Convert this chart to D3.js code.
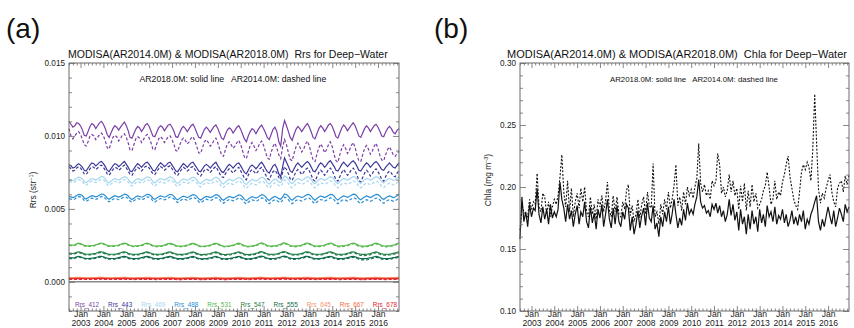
<!DOCTYPE html>
<html>
<head>
<meta charset="utf-8">
<script src="https://cdn.jsdelivr.net/npm/d3@7"></script>
<style>
  body { margin: 0; background: #fff; }
  svg { display: block; font-family: "Liberation Sans", Arial, Helvetica, sans-serif; }
  svg text { white-space: pre; }
</style>
</head>
<body>
<svg id="chart" width="854" height="328"></svg>
<script>
// Monthly series, Jul 2002 .. Dec 2016 (one row per calendar year)
const firstMonth = new Date(2002, 6, 1);
const lastMonth = new Date(2016, 11, 1);
const yearLabels = [2003, 2004, 2005, 2006, 2007, 2008, 2009, 2010, 2011, 2012, 2013, 2014, 2015, 2016];

const bands = ["Rrs_412", "Rrs_443", "Rrs_469", "Rrs_488", "Rrs_531", "Rrs_547", "Rrs_555", "Rrs_645", "Rrs_667", "Rrs_678"];
const bandColors = ["#7b3fa6", "#3b3898", "#a6d6f0", "#2c8fd2", "#55b84a", "#1f7d45", "#106c4c", "#f3946b", "#f26a3b", "#e62530"];

// Rrs values in units of 1e-5 sr^-1
const RRS_UNIT = 1e-5;

const rrs412_2018 = [
  1100, 1080, 1060, 1070, 1090, 1085,
  1070, 1040, 1005, 1000, 1030, 1065, 1085, 1075, 1050, 1070, 1090, 1100,
  1080, 1050, 1010, 990, 1020, 1050, 1070, 1060, 1040, 1060, 1080, 1095,
  1070, 1035, 990, 985, 1015, 1045, 1065, 1055, 1030, 1050, 1075, 1085,
  1065, 1030, 1000, 995, 1025, 1055, 1070, 1060, 1035, 1055, 1075, 1080,
  1060, 1030, 995, 990, 1020, 1050, 1065, 1050, 1030, 1050, 1070, 1080,
  1055, 1020, 990, 985, 1015, 1045, 1060, 1045, 1025, 1045, 1065, 1075,
  1050, 1015, 985, 975, 1010, 1040, 1055, 1045, 1020, 1040, 1060, 1070,
  1045, 1010, 980, 960, 1000, 1030, 1050, 1040, 1015, 1040, 1060, 1075,
  1050, 1020, 990, 975, 1010, 1045, 1060, 1030, 960, 930, 1050, 1105,
  1070, 1030, 990, 970, 1010, 1045, 1065, 1050, 1030, 1050, 1070, 1085,
  1060, 1025, 990, 980, 1015, 1050, 1070, 1055, 1030, 1050, 1075, 1085,
  1065, 1030, 995, 985, 1020, 1055, 1075, 1060, 1035, 1055, 1075, 1090,
  1070, 1035, 1000, 990, 1020, 1050, 1070, 1055, 1030, 1050, 1070, 1080,
  1060, 1030, 1000, 995, 1025, 1050, 1065, 1050, 1025, 1015, 1040, 1050
];
const rrs412_2014 = [
  1050, 1000, 980, 1000, 1020, 1030,
  1010, 975, 940, 930, 960, 1000, 1010, 1000, 975, 990, 1010, 1020,
  1000, 965, 920, 910, 950, 990, 1005, 995, 965, 985, 1005, 1015,
  990, 950, 905, 900, 940, 980, 995, 985, 955, 975, 1000, 1010,
  985, 950, 910, 905, 945, 980, 995, 980, 955, 975, 995, 1000,
  975, 940, 900, 895, 935, 970, 985, 970, 945, 960, 985, 995,
  965, 925, 885, 880, 920, 960, 975, 955, 930, 945, 970, 985,
  950, 905, 870, 860, 905, 945, 960, 940, 915, 930, 955, 970,
  940, 895, 855, 845, 890, 935, 955, 930, 900, 920, 950, 965,
  935, 890, 850, 840, 885, 930, 950, 915, 870, 845, 925, 975,
  940, 885, 840, 830, 880, 925, 950, 925, 890, 910, 945, 965,
  930, 875, 835, 825, 875, 920, 945, 920, 885, 905, 940, 960,
  925, 870, 830, 820, 870, 915, 940, 915, 880, 900, 935, 955,
  920, 865, 830, 825, 870, 915, 935, 910, 875, 895, 930, 950,
  915, 865, 835, 830, 870, 905, 925, 900, 870, 860, 880, 895
];
const rrs443_2018 = [
  805, 795, 780, 785, 800, 810,
  800, 785, 765, 760, 780, 800, 815, 810, 795, 805, 820, 825,
  810, 790, 765, 755, 775, 795, 810, 805, 790, 800, 815, 825,
  805, 785, 760, 755, 775, 795, 810, 800, 785, 800, 815, 820,
  805, 785, 765, 760, 780, 800, 815, 805, 790, 800, 815, 820,
  800, 780, 760, 755, 775, 795, 810, 800, 785, 800, 815, 820,
  800, 780, 760, 755, 775, 795, 805, 795, 780, 795, 810, 820,
  795, 775, 755, 750, 770, 790, 805, 795, 780, 795, 810, 815,
  795, 770, 750, 740, 765, 790, 800, 790, 775, 790, 810, 820,
  800, 775, 755, 745, 770, 795, 805, 780, 740, 720, 790, 850,
  820, 790, 760, 750, 775, 800, 815, 800, 785, 800, 815, 825,
  810, 785, 760, 755, 775, 800, 815, 805, 785, 800, 820, 830,
  810, 790, 765, 760, 780, 805, 820, 805, 790, 805, 820, 830,
  815, 790, 765, 760, 780, 800, 815, 805, 785, 800, 815, 825,
  810, 790, 770, 765, 785, 800, 815, 800, 785, 780, 800, 815
];
const rrs443_2014 = [
  790, 775, 760, 765, 780, 790,
  780, 760, 740, 735, 755, 775, 790, 785, 770, 780, 795, 800,
  785, 765, 740, 730, 750, 770, 785, 780, 765, 775, 790, 800,
  780, 760, 735, 730, 750, 770, 785, 775, 760, 775, 790, 795,
  780, 760, 740, 735, 755, 775, 790, 780, 765, 775, 790, 795,
  775, 755, 735, 730, 750, 770, 785, 775, 760, 770, 785, 790,
  770, 750, 730, 725, 745, 765, 775, 765, 750, 765, 780, 790,
  765, 740, 720, 715, 740, 760, 775, 760, 745, 760, 775, 785,
  760, 735, 710, 700, 730, 755, 770, 755, 740, 755, 775, 785,
  760, 735, 710, 700, 730, 755, 765, 745, 715, 700, 750, 790,
  770, 740, 705, 695, 725, 755, 770, 755, 735, 750, 770, 780,
  760, 730, 700, 690, 720, 750, 765, 750, 730, 745, 770, 780,
  760, 730, 700, 690, 720, 750, 770, 750, 730, 745, 770, 780,
  760, 730, 695, 685, 715, 745, 765, 750, 725, 740, 765, 775,
  755, 730, 700, 690, 720, 745, 760, 745, 725, 720, 745, 765
];
const rrs469_2018 = [
  705, 700, 695, 700, 710, 718,
  715, 705, 688, 680, 690, 700, 708, 704, 698, 705, 714, 722,
  718, 706, 686, 678, 690, 700, 708, 703, 697, 704, 713, 721,
  716, 704, 684, 676, 688, 699, 707, 702, 696, 703, 712, 720,
  716, 704, 686, 678, 689, 700, 708, 703, 697, 704, 713, 720,
  714, 702, 683, 675, 687, 698, 706, 701, 695, 702, 711, 718,
  712, 700, 681, 673, 685, 696, 704, 699, 693, 700, 710, 717,
  711, 698, 679, 671, 684, 695, 703, 698, 692, 699, 709, 716,
  710, 697, 676, 666, 680, 693, 702, 697, 690, 698, 709, 718,
  713, 700, 680, 670, 684, 697, 705, 698, 685, 680, 700, 725,
  718, 703, 682, 672, 686, 699, 708, 702, 695, 702, 712, 720,
  715, 701, 681, 672, 686, 699, 708, 703, 696, 703, 713, 721,
  716, 702, 682, 673, 687, 700, 709, 704, 697, 704, 714, 722,
  717, 703, 683, 674, 688, 700, 709, 703, 696, 703, 713, 721,
  716, 703, 685, 677, 690, 701, 709, 703, 696, 700, 712, 722
];
const rrs469_2014 = [
  690, 685, 680, 685, 695, 700,
  698, 688, 670, 662, 672, 683, 690, 686, 680, 687, 696, 703,
  699, 686, 667, 659, 670, 681, 689, 684, 678, 685, 694, 701,
  696, 684, 664, 656, 668, 679, 687, 682, 676, 683, 692, 699,
  695, 683, 665, 657, 668, 679, 687, 682, 676, 683, 692, 699,
  692, 680, 661, 653, 665, 676, 684, 679, 673, 680, 689, 696,
  689, 677, 658, 650, 662, 673, 681, 676, 670, 677, 686, 693,
  686, 673, 654, 646, 659, 670, 678, 673, 667, 674, 684, 691,
  684, 671, 650, 640, 654, 667, 676, 671, 664, 672, 683, 691,
  686, 673, 653, 643, 657, 670, 678, 671, 660, 655, 675, 698,
  690, 675, 654, 644, 658, 671, 680, 674, 667, 674, 684, 692,
  686, 672, 652, 643, 657, 670, 679, 674, 667, 674, 684, 692,
  686, 672, 652, 643, 657, 670, 679, 674, 667, 674, 684, 692,
  686, 672, 652, 643, 657, 669, 678, 672, 665, 672, 682, 690,
  684, 671, 653, 645, 658, 669, 677, 671, 664, 668, 680, 690
];
const rrs488_2018 = [
  585, 582, 578, 583, 592, 600,
  598, 590, 575, 568, 576, 584, 590, 587, 582, 587, 595, 602,
  600, 590, 574, 566, 575, 584, 590, 586, 581, 586, 594, 601,
  598, 588, 572, 564, 573, 583, 589, 585, 580, 585, 593, 600,
  598, 588, 573, 565, 574, 583, 589, 585, 580, 585, 593, 600,
  596, 586, 570, 563, 572, 581, 587, 583, 578, 583, 591, 598,
  595, 584, 569, 561, 570, 579, 586, 582, 577, 582, 590, 597,
  594, 583, 567, 559, 569, 578, 585, 581, 576, 581, 589, 596,
  593, 582, 565, 556, 567, 577, 584, 580, 574, 580, 589, 598,
  595, 584, 567, 558, 569, 579, 586, 580, 570, 566, 582, 603,
  599, 587, 569, 560, 571, 581, 588, 583, 577, 583, 591, 599,
  597, 586, 569, 560, 571, 581, 588, 584, 578, 584, 592, 600,
  598, 587, 570, 561, 572, 582, 589, 585, 579, 585, 593, 601,
  599, 588, 571, 562, 573, 582, 589, 584, 578, 584, 592, 600,
  598, 587, 572, 564, 574, 583, 589, 584, 578, 581, 591, 600
];
const rrs488_2014 = [
  570, 567, 563, 568, 577, 584,
  582, 573, 558, 551, 559, 567, 573, 570, 565, 570, 578, 585,
  583, 572, 556, 548, 557, 566, 572, 568, 563, 568, 576, 583,
  580, 570, 554, 546, 555, 565, 571, 567, 562, 567, 575, 582,
  580, 570, 555, 547, 556, 565, 571, 567, 562, 567, 575, 582,
  577, 567, 551, 544, 553, 562, 568, 564, 559, 564, 572, 579,
  575, 564, 549, 541, 550, 559, 566, 562, 557, 562, 570, 577,
  573, 562, 546, 538, 548, 557, 564, 560, 555, 560, 568, 575,
  571, 560, 543, 534, 545, 555, 562, 558, 552, 558, 567, 575,
  572, 561, 544, 535, 546, 556, 563, 557, 548, 544, 560, 580,
  575, 563, 545, 536, 547, 557, 564, 559, 553, 559, 567, 575,
  573, 562, 545, 536, 547, 557, 564, 560, 554, 560, 568, 576,
  573, 562, 545, 536, 547, 557, 564, 560, 554, 560, 568, 576,
  573, 562, 545, 536, 547, 556, 563, 558, 552, 558, 566, 574,
  572, 561, 546, 538, 548, 557, 563, 558, 552, 555, 565, 574
];
const rrs531_2018 = [
  255, 252, 251, 254, 260, 265,
  262, 256, 250, 247, 246, 247, 248, 250, 253, 258, 264, 266,
  262, 256, 250, 247, 246, 246, 247, 249, 252, 257, 263, 265,
  262, 255, 249, 246, 245, 246, 247, 249, 252, 257, 263, 265,
  261, 255, 249, 246, 245, 246, 247, 249, 252, 257, 262, 264,
  261, 255, 249, 246, 245, 245, 246, 248, 251, 256, 262, 264,
  260, 254, 248, 245, 244, 245, 246, 248, 251, 256, 262, 264,
  260, 254, 248, 245, 244, 245, 246, 248, 251, 256, 262, 265,
  261, 254, 248, 245, 244, 245, 246, 248, 252, 257, 264, 267,
  263, 256, 249, 246, 245, 246, 247, 249, 253, 258, 265, 267,
  263, 256, 249, 246, 245, 246, 247, 249, 252, 257, 264, 266,
  262, 255, 249, 246, 245, 246, 247, 249, 252, 257, 263, 266,
  262, 256, 249, 246, 245, 246, 247, 249, 252, 257, 263, 266,
  262, 255, 249, 246, 245, 245, 246, 248, 251, 256, 262, 265,
  261, 255, 249, 246, 245, 246, 247, 249, 252, 256, 262, 266
];
const rrs531_2014 = [
  251, 248, 247, 250, 256, 261,
  258, 252, 246, 243, 242, 243, 244, 246, 249, 254, 260, 262,
  258, 252, 246, 243, 242, 242, 243, 245, 248, 253, 259, 261,
  258, 251, 245, 242, 241, 242, 243, 245, 248, 253, 259, 261,
  257, 251, 245, 242, 241, 242, 243, 245, 248, 253, 258, 260,
  257, 251, 245, 242, 241, 241, 242, 244, 247, 252, 258, 260,
  256, 250, 244, 241, 240, 241, 242, 244, 247, 252, 258, 260,
  256, 250, 244, 241, 240, 241, 242, 244, 247, 252, 258, 260,
  256, 250, 244, 241, 240, 241, 242, 244, 247, 252, 259, 262,
  258, 251, 245, 242, 241, 242, 243, 245, 248, 253, 260, 262,
  258, 251, 244, 241, 240, 241, 242, 244, 247, 252, 259, 261,
  257, 250, 244, 241, 240, 241, 242, 244, 247, 252, 258, 261,
  257, 251, 244, 241, 240, 241, 242, 244, 247, 252, 258, 261,
  257, 250, 244, 241, 240, 240, 241, 243, 246, 251, 257, 260,
  256, 250, 244, 241, 240, 241, 242, 244, 247, 251, 257, 261
];
const rrs547_2018 = [
  196, 194, 194, 197, 202, 206,
  202, 197, 192, 190, 189, 190, 191, 193, 196, 200, 205, 206,
  202, 197, 192, 190, 189, 189, 190, 192, 195, 199, 204, 206,
  202, 196, 191, 189, 188, 189, 190, 192, 195, 199, 204, 205,
  201, 196, 191, 189, 188, 189, 190, 192, 195, 199, 204, 205,
  201, 196, 191, 189, 188, 188, 189, 191, 194, 198, 203, 205,
  200, 195, 190, 188, 187, 188, 189, 191, 194, 198, 203, 205,
  200, 195, 190, 188, 187, 188, 189, 191, 194, 198, 203, 205,
  201, 195, 190, 188, 187, 188, 189, 191, 195, 199, 205, 207,
  203, 197, 191, 189, 188, 189, 190, 192, 196, 200, 206, 207,
  203, 197, 191, 189, 188, 189, 190, 192, 195, 199, 205, 206,
  202, 196, 191, 189, 188, 189, 190, 192, 195, 199, 204, 206,
  202, 197, 191, 189, 188, 189, 190, 192, 195, 199, 204, 206,
  202, 196, 191, 189, 188, 188, 189, 191, 194, 198, 203, 205,
  201, 196, 191, 189, 188, 189, 190, 192, 195, 198, 203, 206
];
const rrs547_2014 = [
  191, 189, 189, 192, 197, 201,
  197, 192, 187, 185, 184, 185, 186, 188, 191, 195, 200, 201,
  197, 192, 187, 185, 184, 184, 185, 187, 190, 194, 199, 201,
  197, 191, 186, 184, 183, 184, 185, 187, 190, 194, 199, 200,
  196, 191, 186, 184, 183, 184, 185, 187, 190, 194, 199, 200,
  196, 191, 186, 184, 183, 183, 184, 186, 189, 193, 198, 200,
  195, 190, 185, 183, 182, 183, 184, 186, 189, 193, 198, 200,
  195, 190, 185, 183, 182, 183, 184, 186, 189, 193, 198, 200,
  196, 190, 185, 183, 182, 183, 184, 186, 190, 194, 200, 202,
  198, 192, 186, 184, 183, 184, 185, 187, 191, 195, 201, 202,
  198, 192, 186, 184, 183, 184, 185, 187, 190, 194, 200, 201,
  197, 191, 186, 184, 183, 184, 185, 187, 190, 194, 199, 201,
  197, 191, 185, 183, 182, 183, 184, 186, 189, 193, 198, 200,
  196, 190, 184, 181, 180, 180, 181, 183, 186, 191, 197, 199,
  195, 190, 185, 183, 182, 183, 184, 186, 189, 192, 197, 200
];
const rrs555_2018 = [
  166, 164, 164, 167, 171, 175,
  172, 167, 163, 161, 160, 161, 162, 164, 167, 170, 174, 175,
  172, 167, 163, 161, 160, 160, 161, 163, 166, 169, 173, 175,
  172, 166, 162, 160, 159, 160, 161, 163, 166, 169, 173, 174,
  171, 166, 162, 160, 159, 160, 161, 163, 166, 169, 173, 174,
  171, 166, 162, 160, 159, 159, 160, 162, 165, 168, 172, 174,
  170, 165, 161, 159, 158, 159, 160, 162, 165, 168, 172, 174,
  170, 165, 161, 159, 158, 159, 160, 162, 165, 168, 172, 174,
  171, 165, 161, 159, 158, 159, 160, 162, 166, 169, 174, 176,
  173, 167, 162, 160, 159, 160, 161, 163, 167, 170, 175, 176,
  173, 167, 162, 160, 159, 160, 161, 163, 166, 169, 174, 175,
  172, 166, 162, 160, 159, 160, 161, 163, 166, 169, 173, 175,
  172, 167, 162, 160, 159, 160, 161, 163, 166, 169, 173, 175,
  172, 166, 162, 160, 159, 159, 160, 162, 165, 168, 172, 174,
  171, 166, 162, 160, 159, 160, 161, 163, 166, 168, 172, 175
];
const rrs555_2014 = [
  161, 159, 159, 162, 166, 170,
  167, 162, 158, 156, 155, 156, 157, 159, 162, 165, 169, 170,
  167, 162, 158, 156, 155, 155, 156, 158, 161, 164, 168, 170,
  167, 161, 157, 155, 154, 155, 156, 158, 161, 164, 168, 169,
  166, 161, 157, 155, 154, 155, 156, 158, 161, 164, 168, 169,
  166, 161, 157, 155, 154, 154, 155, 157, 160, 163, 167, 169,
  165, 160, 156, 154, 153, 154, 155, 157, 160, 163, 167, 169,
  165, 160, 156, 154, 153, 154, 155, 157, 160, 163, 167, 169,
  166, 160, 156, 154, 153, 154, 155, 157, 161, 164, 169, 171,
  168, 162, 157, 155, 154, 155, 156, 158, 162, 165, 170, 171,
  168, 162, 157, 155, 154, 155, 156, 158, 161, 164, 169, 170,
  167, 161, 157, 155, 154, 155, 156, 158, 161, 164, 168, 170,
  167, 161, 156, 154, 153, 154, 155, 157, 160, 163, 167, 169,
  166, 160, 155, 152, 150, 150, 151, 153, 156, 160, 165, 168,
  165, 160, 156, 154, 153, 154, 155, 157, 160, 162, 166, 169
];
const rrs645_2018 = [
  30, 29, 29, 29, 30, 30,
  30, 29, 29, 28, 28, 28, 29, 29, 29, 30, 30, 31,
  30, 29, 29, 28, 28, 28, 29, 29, 29, 30, 30, 30,
  30, 29, 28, 28, 28, 28, 29, 29, 29, 29, 30, 30,
  30, 29, 28, 28, 28, 28, 28, 29, 29, 29, 30, 30,
  30, 29, 28, 28, 28, 28, 28, 29, 29, 29, 30, 30,
  29, 29, 28, 28, 27, 28, 28, 28, 29, 29, 30, 30,
  29, 29, 28, 28, 27, 28, 28, 28, 29, 29, 30, 30,
  30, 29, 28, 28, 28, 28, 28, 29, 29, 30, 30, 31,
  30, 29, 29, 28, 28, 28, 29, 29, 29, 30, 30, 31,
  30, 29, 29, 28, 28, 28, 29, 29, 29, 30, 30, 30,
  30, 29, 28, 28, 28, 28, 29, 29, 29, 30, 30, 30,
  30, 29, 28, 28, 28, 28, 29, 29, 29, 30, 30, 30,
  30, 29, 28, 28, 28, 28, 28, 29, 29, 29, 30, 30,
  30, 29, 28, 28, 28, 28, 29, 29, 29, 29, 30, 30
];
const rrs645_2014 = [
  25, 24, 24, 24, 25, 25,
  25, 24, 24, 23, 23, 23, 24, 24, 24, 25, 25, 26,
  25, 24, 24, 23, 23, 23, 24, 24, 24, 25, 25, 25,
  25, 24, 23, 23, 23, 23, 24, 24, 24, 24, 25, 25,
  25, 24, 23, 23, 23, 23, 23, 24, 24, 24, 25, 25,
  25, 24, 23, 23, 23, 23, 23, 24, 24, 24, 25, 25,
  24, 24, 23, 23, 22, 23, 23, 23, 24, 24, 25, 25,
  24, 24, 23, 23, 22, 23, 23, 23, 24, 24, 25, 25,
  25, 24, 23, 23, 23, 23, 23, 24, 24, 25, 25, 26,
  25, 24, 24, 23, 23, 23, 24, 24, 24, 25, 25, 26,
  25, 24, 24, 23, 23, 23, 24, 24, 24, 25, 25, 25,
  25, 24, 23, 23, 23, 23, 24, 24, 24, 25, 25, 25,
  25, 24, 23, 23, 23, 23, 24, 24, 24, 25, 25, 25,
  25, 24, 23, 23, 23, 23, 23, 24, 24, 24, 25, 25,
  25, 24, 23, 23, 23, 23, 24, 24, 24, 24, 25, 25
];
const rrs667_2018 = [
  24, 24, 23, 23, 24, 24,
  24, 24, 23, 23, 23, 23, 23, 24, 24, 24, 25, 25,
  24, 24, 23, 23, 23, 23, 23, 24, 24, 24, 24, 25,
  24, 24, 23, 23, 22, 23, 23, 23, 24, 24, 24, 24,
  24, 24, 23, 23, 22, 23, 23, 23, 24, 24, 24, 24,
  24, 23, 23, 22, 22, 22, 23, 23, 23, 24, 24, 24,
  24, 23, 23, 22, 22, 22, 23, 23, 23, 24, 24, 24,
  24, 23, 23, 22, 22, 22, 23, 23, 23, 24, 24, 24,
  24, 24, 23, 23, 22, 23, 23, 23, 24, 24, 25, 25,
  24, 24, 23, 23, 23, 23, 23, 24, 24, 24, 25, 25,
  24, 24, 23, 23, 23, 23, 23, 24, 24, 24, 24, 25,
  24, 24, 23, 23, 22, 23, 23, 23, 24, 24, 24, 25,
  24, 24, 23, 23, 22, 23, 23, 23, 24, 24, 24, 25,
  24, 24, 23, 22, 22, 22, 23, 23, 23, 24, 24, 24,
  24, 24, 23, 23, 22, 23, 23, 23, 24, 24, 24, 24
];
const rrs667_2014 = [
  19, 19, 18, 18, 19, 19,
  19, 19, 18, 18, 18, 18, 18, 19, 19, 19, 20, 20,
  19, 19, 18, 18, 18, 18, 18, 19, 19, 19, 19, 20,
  19, 19, 18, 18, 17, 18, 18, 18, 19, 19, 19, 19,
  19, 19, 18, 18, 17, 18, 18, 18, 19, 19, 19, 19,
  19, 18, 18, 17, 17, 17, 18, 18, 18, 19, 19, 19,
  19, 18, 18, 17, 17, 17, 18, 18, 18, 19, 19, 19,
  19, 18, 18, 17, 17, 17, 18, 18, 18, 19, 19, 19,
  19, 19, 18, 18, 17, 18, 18, 18, 19, 19, 20, 20,
  19, 19, 18, 18, 18, 18, 18, 19, 19, 19, 20, 20,
  19, 19, 18, 18, 18, 18, 18, 19, 19, 19, 19, 20,
  19, 19, 18, 18, 17, 18, 18, 18, 19, 19, 19, 20,
  19, 19, 18, 18, 17, 18, 18, 18, 19, 19, 19, 20,
  19, 19, 18, 17, 17, 17, 18, 18, 18, 19, 19, 19,
  19, 19, 18, 18, 17, 18, 18, 18, 19, 19, 19, 19
];
const rrs678_2018 = [
  22, 22, 21, 21, 22, 22,
  22, 22, 21, 21, 21, 21, 21, 22, 22, 22, 23, 23,
  22, 22, 21, 21, 21, 21, 21, 22, 22, 22, 22, 23,
  22, 22, 21, 21, 20, 21, 21, 21, 22, 22, 22, 22,
  22, 22, 21, 21, 20, 21, 21, 21, 22, 22, 22, 22,
  22, 21, 21, 20, 20, 20, 21, 21, 21, 22, 22, 22,
  22, 21, 21, 20, 20, 20, 21, 21, 21, 22, 22, 22,
  22, 21, 21, 20, 20, 20, 21, 21, 21, 22, 22, 22,
  22, 22, 21, 21, 20, 21, 21, 21, 22, 22, 23, 23,
  22, 22, 21, 21, 21, 21, 21, 22, 22, 22, 23, 23,
  22, 22, 21, 21, 21, 21, 21, 22, 22, 22, 22, 23,
  22, 22, 21, 21, 20, 21, 21, 21, 22, 22, 22, 23,
  22, 22, 21, 21, 20, 21, 21, 21, 22, 22, 22, 23,
  22, 22, 21, 20, 20, 20, 21, 21, 21, 22, 22, 22,
  22, 22, 21, 21, 20, 21, 21, 21, 22, 22, 22, 22
];
const rrs678_2014 = [
  17, 17, 16, 16, 17, 17,
  17, 17, 16, 16, 16, 16, 16, 17, 17, 17, 18, 18,
  17, 17, 16, 16, 16, 16, 16, 17, 17, 17, 17, 18,
  17, 17, 16, 16, 15, 16, 16, 16, 17, 17, 17, 17,
  17, 17, 16, 16, 15, 16, 16, 16, 17, 17, 17, 17,
  17, 16, 16, 15, 15, 15, 16, 16, 16, 17, 17, 17,
  17, 16, 16, 15, 15, 15, 16, 16, 16, 17, 17, 17,
  17, 16, 16, 15, 15, 15, 16, 16, 16, 17, 17, 17,
  17, 17, 16, 16, 15, 16, 16, 16, 17, 17, 18, 18,
  17, 17, 16, 16, 16, 16, 16, 17, 17, 17, 18, 18,
  17, 17, 16, 16, 16, 16, 16, 17, 17, 17, 17, 18,
  17, 17, 16, 16, 15, 16, 16, 16, 17, 17, 17, 18,
  17, 17, 16, 16, 15, 16, 16, 16, 17, 17, 17, 18,
  17, 17, 16, 15, 15, 15, 16, 16, 16, 17, 17, 17,
  17, 17, 16, 16, 15, 16, 16, 16, 17, 17, 17, 17
];

// Chla in mg m^-3
const chla2018 = [
  .158, .192, .172, .180, .168, .186,
  .176, .183, .181, .199, .178, .171, .184, .174, .182, .170, .186, .175,
  .180, .176, .182, .204, .190, .183, .172, .186, .174, .181, .168, .178,
  .185, .170, .180, .176, .188, .172, .167, .184, .171, .179, .166, .182,
  .175, .186, .168, .178, .190, .174, .167, .183, .170, .185, .172, .168,
  .180, .174, .186, .183, .165, .176, .162, .170, .181, .167, .177, .183,
  .169, .187, .175, .172, .185, .166, .171, .160, .176, .168, .180, .172,
  .184, .170, .178, .190, .178, .167, .175, .169, .182, .173, .187, .178,
  .182, .178, .186, .192, .206, .188, .183, .185, .179, .181, .176, .186,
  .182, .187, .179, .185, .176, .181, .172, .178, .190, .177, .186, .173,
  .180, .165, .182, .170, .176, .162, .178, .166, .181, .170, .176, .164,
  .182, .171, .178, .168, .185, .176, .180, .172, .184, .170, .177, .174,
  .182, .171, .178, .168, .173, .181, .170, .176, .169, .178, .172, .181,
  .166, .174, .170, .178, .182, .188, .193, .172, .165, .174, .168, .176,
  .184, .176, .170, .181, .168, .175, .183, .178, .172, .186, .180, .184
];
const chla2014 = [
  .165, .185, .180, .178, .176, .190,
  .182, .188, .186, .211, .184, .180, .195, .192, .178, .188, .176, .184,
  .190, .186, .193, .208, .226, .196, .184, .205, .180, .199, .176, .188,
  .195, .183, .199, .188, .200, .180, .176, .192, .178, .186, .174, .190,
  .184, .193, .180, .189, .204, .181, .176, .193, .180, .192, .178, .176,
  .188, .182, .197, .202, .177, .185, .172, .178, .190, .175, .186, .192,
  .178, .196, .185, .183, .219, .176, .180, .170, .186, .178, .190, .182,
  .196, .183, .190, .201, .218, .185, .192, .181, .196, .186, .200, .193,
  .198, .191, .200, .207, .235, .203, .196, .202, .193, .197, .190, .205,
  .201, .205, .227, .218, .195, .200, .192, .197, .210, .196, .205, .193,
  .199, .182, .201, .188, .203, .181, .197, .184, .202, .188, .195, .183,
  .186, .190, .197, .201, .212, .200, .186, .190, .205, .190, .196, .193,
  .204, .210, .218, .225, .208, .199, .190, .185, .182, .196, .212, .218,
  .214, .220, .216, .205, .230, .275, .236, .198, .187, .195, .191, .199,
  .205, .210, .196, .188, .184, .199, .203, .205, .196, .209, .202, .210
];

const rrsSeries2018 = [rrs412_2018, rrs443_2018, rrs469_2018, rrs488_2018, rrs531_2018, rrs547_2018, rrs555_2018, rrs645_2018, rrs667_2018, rrs678_2018];
const rrsSeries2014 = [rrs412_2014, rrs443_2014, rrs469_2014, rrs488_2014, rrs531_2014, rrs547_2014, rrs555_2014, rrs645_2014, rrs667_2014, rrs678_2014];

const rrsTicks = [0, 0.005, 0.010, 0.015];
const chlaTicks = [0.10, 0.15, 0.20, 0.25, 0.30];

// ---------------------------------------------------------------
const months = d3.timeMonth.range(firstMonth, d3.timeMonth.offset(lastMonth, 1));
const svg = d3.select("#chart");
const FRAME = "#6a6a6a";

function styleAxis(g) {
  g.select(".domain").remove();
  g.selectAll(".tick line").attr("stroke", FRAME).attr("stroke-width", 0.8);
  g.attr("font-family", null).attr("font-size", null);
  g.selectAll("text").attr("fill", "#222");
}

function fitText(sel, width) {
  const fs = parseFloat(sel.attr("font-size"));
  const w = sel.node().getComputedTextLength();
  sel.attr("font-size", (fs * width / w).toFixed(2));
  return sel;
}

function frameAxes(g, x, y, yMajor, yMinor, yFmt) {
  const [xl, xr] = x.range();
  const [yb, yt] = y.range();
  const jans = yearLabels.map(yr => new Date(yr, 0, 1));
  const minorMonths = d3.timeMonth.every(2).range(x.domain()[0], d3.timeMonth.offset(x.domain()[1], 1))
    .filter(d => d.getMonth() !== 0);

  // left / right value axes
  g.append("g").attr("transform", `translate(${xl},0)`)
    .call(d3.axisLeft(y).tickValues(yMajor).tickSize(-6).tickPadding(4).tickFormat(yFmt))
    .call(styleAxis).call(a => a.selectAll("text").attr("font-size", 8.2));
  g.append("g").attr("transform", `translate(${xl},0)`)
    .call(d3.axisLeft(y).tickValues(yMinor).tickSize(-3).tickFormat(""))
    .call(styleAxis);
  g.append("g").attr("transform", `translate(${xr},0)`)
    .call(d3.axisRight(y).tickValues(yMajor).tickSize(-6).tickFormat(""))
    .call(styleAxis);
  g.append("g").attr("transform", `translate(${xr},0)`)
    .call(d3.axisRight(y).tickValues(yMinor).tickSize(-3).tickFormat(""))
    .call(styleAxis);

  // bottom / top time axes
  g.append("g").attr("transform", `translate(0,${yb})`)
    .call(d3.axisBottom(x).tickValues(jans).tickSize(-5).tickFormat(""))
    .call(styleAxis);
  g.append("g").attr("transform", `translate(0,${yb})`)
    .call(d3.axisBottom(x).tickValues(minorMonths).tickSize(-2.5).tickFormat(""))
    .call(styleAxis);
  g.append("g").attr("transform", `translate(0,${yt})`)
    .call(d3.axisTop(x).tickValues(jans).tickSize(-5).tickFormat(""))
    .call(styleAxis);
  g.append("g").attr("transform", `translate(0,${yt})`)
    .call(d3.axisTop(x).tickValues(minorMonths).tickSize(-2.5).tickFormat(""))
    .call(styleAxis);

  // two-line date labels
  const lab = g.append("g").attr("transform", `translate(0,${yb})`)
    .call(d3.axisBottom(x).tickValues(jans).tickSize(0).tickPadding(0).tickFormat(d3.timeFormat("%b")))
    .call(styleAxis);
  lab.selectAll("text").attr("font-size", 8.6).attr("dy", null).attr("y", 6.2)
    .each(function (d) {
      d3.select(this).append("tspan").attr("x", 0).attr("dy", 8.4).text(d3.timeFormat("%Y")(d));
    });

  g.append("rect").attr("x", xl).attr("y", yt).attr("width", xr - xl).attr("height", yb - yt)
    .attr("fill", "none").attr("stroke", FRAME).attr("stroke-width", 1);
}

function titles(g, cx, title, titleW, subCx, sub, subW, ylab, ylabSup, ylabX, ylabY) {
  const t = g.append("text").attr("font-size", 10.5).attr("fill", "#111").attr("y", 58).text(title);
  fitText(t, titleW).attr("x", cx - titleW / 2);
  const s = g.append("text").attr("font-size", 7.5).attr("fill", "#111").attr("y", 82).text(sub);
  fitText(s, subW).attr("x", subCx - subW / 2);
  const yl = g.append("text").attr("font-size", 8.4).attr("fill", "#222")
    .attr("text-anchor", "middle")
    .attr("transform", `translate(${ylabX},${ylabY}) rotate(-90)`);
  yl.append("tspan").text(ylab[0]);
  yl.append("tspan").attr("font-size", 5.5).attr("dy", -3.2).text(ylabSup);
  yl.append("tspan").attr("dy", 3.2).text(ylab[1]);
}

// ---------------- panel (a): Rrs ----------------
{
  const g = svg.append("g");
  const x = d3.scaleTime().domain([firstMonth, lastMonth]).range([69, 399]);
  const y = d3.scaleLinear().domain([-0.002, 0.015]).range([311, 63]);
  const yMinor = d3.range(-2, 16).map(k => k / 1000).filter(v => !rrsTicks.some(t => Math.abs(t - v) < 1e-9));

  // zero reference
  g.append("line").attr("x1", 69).attr("x2", 399).attr("y1", y(0)).attr("y2", y(0))
    .attr("stroke", "#8a8a8a").attr("stroke-width", 1.6);

  const line = d3.line().x((d, i) => x(months[i])).y(d => y(d * RRS_UNIT));
  bands.forEach((b, k) => {
    g.append("path").attr("d", line(rrsSeries2014[k])).attr("fill", "none")
      .attr("stroke", bandColors[k]).attr("stroke-width", 1.2).attr("stroke-dasharray", "3,2");
  });
  bands.forEach((b, k) => {
    g.append("path").attr("d", line(rrsSeries2018[k])).attr("fill", "none")
      .attr("stroke", bandColors[k]).attr("stroke-width", 1.2);
  });

  frameAxes(g, x, y, rrsTicks, yMinor, d3.format(".3f"));

  // band legend along the bottom
  const lx = d3.scaleBand().domain(bands).range([70.5, 401.5]);
  g.append("g").selectAll("text").data(bands).join("text")
    .attr("x", d => lx(d) + lx.bandwidth() / 2).attr("y", 306.5)
    .attr("text-anchor", "middle").attr("font-size", 6.4)
    .attr("fill", (d, i) => bandColors[i]).text(d => d);

  titles(g, 228, "MODISA(AR2014.0M) & MODISA(AR2018.0M)  Rrs for Deep\u2212Water", 320,
    233, "AR2018.0M: solid line   AR2014.0M: dashed line", 187,
    ["Rrs (str", ")"], "\u22121", 36, 190);

  g.append("text").attr("x", 6).attr("y", 38).attr("font-size", 28).attr("fill", "#111").text("(a)");
}

// ---------------- panel (b): Chla ----------------
{
  const g = svg.append("g");
  const x = d3.scaleTime().domain([firstMonth, lastMonth]).range([520, 849]);
  const y = d3.scaleLinear().domain([0.10, 0.30]).range([311, 63]);
  const yMinor = d3.range(10, 31).map(k => k / 100).filter(v => !chlaTicks.some(t => Math.abs(t - v) < 1e-9));

  const line = d3.line().x((d, i) => x(months[i])).y(d => y(d));
  g.append("path").attr("d", line(chla2014)).attr("fill", "none")
    .attr("stroke", "#111").attr("stroke-width", 1.1).attr("stroke-dasharray", "2,1.6");
  g.append("path").attr("d", line(chla2018)).attr("fill", "none")
    .attr("stroke", "#111").attr("stroke-width", 1.2);

  frameAxes(g, x, y, chlaTicks, yMinor, d3.format(".2f"));

  titles(g, 677, "MODISA(AR2014.0M) & MODISA(AR2018.0M)  Chla for Deep\u2212Water", 340,
    694, "AR2018.0M: solid line   AR2014.0M: dashed line", 168,
    ["Chla (mg m", ")"], "\u22123", 491, 180);

  g.append("text").attr("x", 434).attr("y", 38).attr("font-size", 28).attr("fill", "#111").text("(b)");
}
</script>
</body>
</html>
